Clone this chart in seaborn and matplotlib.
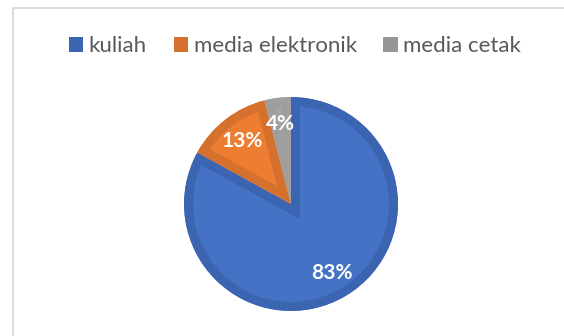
import matplotlib
matplotlib.use("Agg")
import matplotlib.pyplot as plt
import seaborn as sns
from matplotlib.patches import Patch
from matplotlib.lines import Line2D

categories = ["kuliah", "media elektronik", "media cetak"]
values = [83, 13, 4]
fill_colors = ["#4472C4", "#ED7D31", "#A3A3A3"]
edge_colors = ["#3C65B1", "#D5702D", "#9E9E9E"]
legend_colors = ["#3C65B1", "#D5702D", "#969696"]

sns.set_theme(style="white")
plt.rcParams['font.family'] = ['Lato', 'DejaVu Sans']

W, H = 564, 336
fig = plt.figure(figsize=(W / 100, H / 100), dpi=100)
fig.patch.set_facecolor("white")

# chart frame (light gray, left and top visible)
fig.add_artist(Line2D([12.5 / W, 12.5 / W], [0, 1 - 7.5 / H], color="#D9D9D9", lw=1.3, transform=fig.transFigure))
fig.add_artist(Line2D([12.5 / W, 1], [1 - 7.5 / H, 1 - 7.5 / H], color="#D9D9D9", lw=1.3, transform=fig.transFigure))

cx, cy, r = 291, 204, 107
ax = fig.add_axes([(cx - r) / W, (H - cy - r) / H, 2 * r / W, 2 * r / H])
wedges, texts, autotexts = ax.pie(
    values, colors=fill_colors, startangle=90, counterclock=False,
    autopct='%.0f%%', pctdistance=0.75,
    textprops=dict(color="white", fontsize=15, fontweight="bold"),
)
for w, ec in zip(wedges, edge_colors):
    w.set_edgecolor(ec)
    w.set_linewidth(13)
    w.set_clip_on(True)
    w.set_clip_path(w)
ax.set_xlim(-1, 1)
ax.set_ylim(-1, 1)
ax.set_aspect("equal")
ax.axis("off")

handles = [Patch(facecolor=c, edgecolor="none") for c in legend_colors]
fig.legend(handles, categories, loc="center", bbox_to_anchor=(295 / W, 1 - 46 / H),
           ncol=3, frameon=False, fontsize=16, handlelength=0.65, handleheight=0.65,
           handletextpad=0.25, columnspacing=1.2, labelcolor="#595959")

fig.savefig("out.png", dpi=100, facecolor="white")
